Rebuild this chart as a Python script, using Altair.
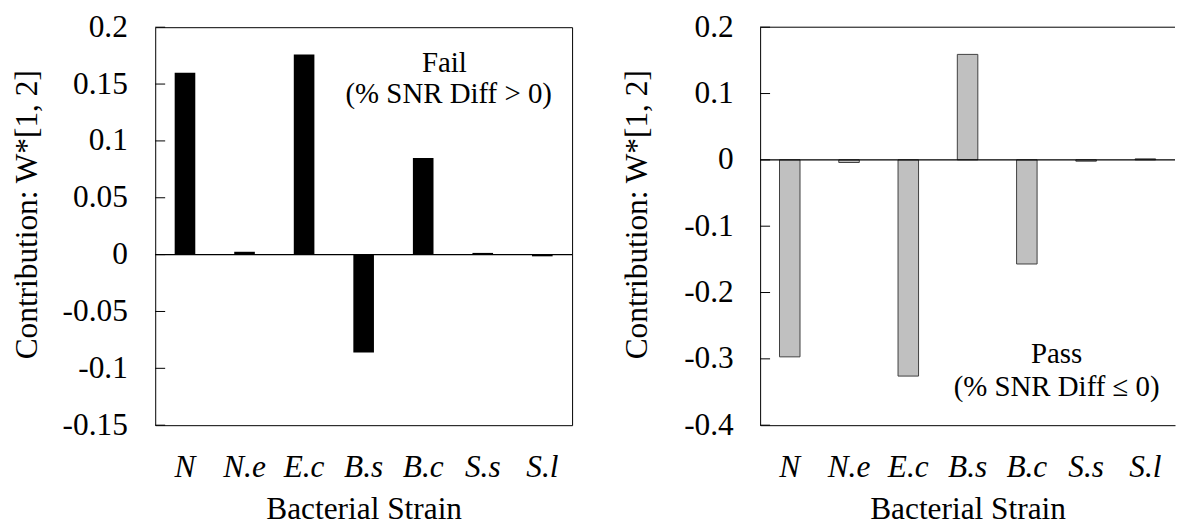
import altair as alt
import pandas as pd

strains = ["N", "N.e", "E.c", "B.s", "B.c", "S.s", "S.l"]
fail_values = [0.160, 0.0025, 0.176, -0.086, 0.085, 0.0015, -0.0015]
pass_values = [-0.297, -0.004, -0.326, 0.159, -0.157, -0.002, 0.0015]
fail_ticks = [-0.15, -0.1, -0.05, 0, 0.05, 0.1, 0.15, 0.2]
pass_ticks = [-0.4, -0.3, -0.2, -0.1, 0, 0.1, 0.2]
fail_note = ["Fail", "(% SNR Diff > 0)"]
pass_note = ["Pass", "(% SNR Diff \u2264 0)"]

FONT = "Liberation Serif"
H = 400


def panel(values, ticks, domain, fill, stroke, width, title_x, label_pad,
          notes, note_pos, boxed):
    df = pd.DataFrame({"strain": strains, "value": values})
    x = alt.X(
        "strain:N", sort=strains,
        scale=alt.Scale(paddingInner=0.654, paddingOuter=0.327),
        axis=alt.Axis(title="Bacterial Strain", labelAngle=0,
                      labelFontStyle="italic", labelPadding=27, ticks=False,
                      titleY=94, titleBaseline="alphabetic",
                      domain=not boxed, domainColor="black", domainWidth=1),
    )
    y = alt.Y(
        "value:Q",
        scale=alt.Scale(domain=domain, nice=False, zero=False),
        axis=alt.Axis(title="Contribution: W*[1, 2]", values=ticks,
                      labelExpr="'' + datum.value", ticks=False,
                      labelPadding=label_pad, grid=False, titleX=title_x,
                      titleY=188, titleBaseline="alphabetic",
                      domain=not boxed, domainColor="black", domainWidth=1),
    )
    bar_kwargs = dict(color=fill)
    if stroke:
        bar_kwargs.update(stroke=stroke, strokeWidth=1)
    else:
        bar_kwargs.update(strokeWidth=0)
    bars = alt.Chart(df).mark_bar(**bar_kwargs).encode(
        x=x, y=y, y2=alt.datum(0))

    zero = alt.Chart(pd.DataFrame({"value": [0]})).mark_rule(
        color="black", strokeWidth=1.2).encode(y=y)

    tick_df = pd.DataFrame({"value": ticks})
    tick_marks = alt.Chart(tick_df).mark_rule(
        color="black", strokeWidth=1).encode(
        y=y, x=alt.value(0), x2=alt.value(10))

    layers = [bars, zero, tick_marks]
    if not boxed:
        top = alt.Chart(pd.DataFrame({"value": [domain[1]]})).mark_rule(
            color="black", strokeWidth=1).encode(y=y)
        layers.append(top)

    for txt, (px, py) in zip(notes, note_pos):
        layers.append(
            alt.Chart(pd.DataFrame({"label": [txt]})).mark_text(
                font=FONT, fontSize=29, align="center",
                baseline="alphabetic", color="black").encode(
                x=alt.value(px), y=alt.value(py), text="label:N"))

    ch = alt.layer(*layers).properties(width=width, height=H)
    if not boxed:
        ch = ch.properties(view=alt.ViewBackground(stroke="transparent"))
    return ch


left = panel(fail_values, fail_ticks, [-0.15, 0.2], "black", None, 419,
             -119, 28, fail_note, [(290.7, 45), (295, 76.5)], True)
right = panel(pass_values, pass_ticks, [-0.4, 0.2], "#c0c0c0", "#404040", 417,
              -114, 27, pass_note, [(298, 337.5), (298, 371)], False)

chart = alt.hconcat(left, right, spacing=47).properties(
    padding={"left": 11, "top": 9, "right": 0, "bottom": 0}
).configure_axis(
    labelFont=FONT, titleFont=FONT, labelFontSize=31.5, titleFontSize=31.5,
    labelColor="black", titleColor="black", titleFontWeight="normal",
).configure_view(stroke="black", strokeWidth=1)

chart.save("out.html", embed_options={"renderer": "svg", "actions": False})
